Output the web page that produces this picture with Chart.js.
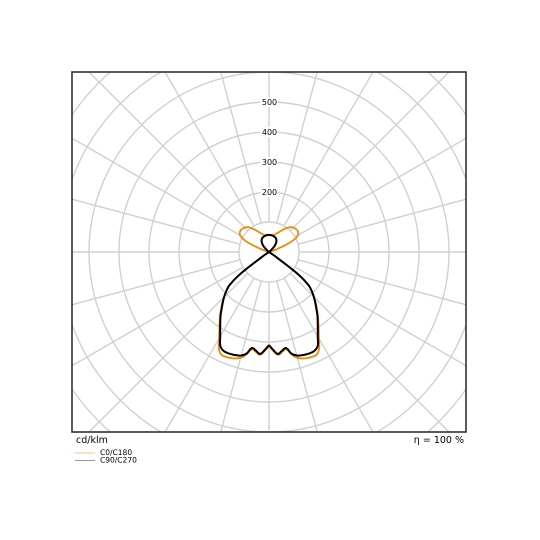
<!DOCTYPE html>
<html><head><meta charset="utf-8">
<script src="https://cdn.jsdelivr.net/npm/chart.js@4"></script>
<style>html,body{margin:0;padding:0;background:#fff}#wrap{width:540px;height:540px}</style>
</head><body><div id="wrap"><canvas id="c" width="540" height="540"></canvas></div>
<script>
// ---- data (cd/klm), gamma measured from nadir ----
const gammaDeg = [0,2.5,5,7.5,10,12.5,15,17.5,20,22.5,25,27.5,30,32.5,35,37.5,40,42.5,45,47.5,50,52.5,55,57.5,60,62.5,65,67.5,70,72.5,75,77.5,80,82.5,85,87.5,90,92.5,95,97.5,100,102.5,105,107.5,110,112.5,115,117.5,120,122.5,125,127.5,130,132.5,135,137.5,140,142.5,145,147.5,150,152.5,155,157.5,160,162.5,165,167.5,170,172.5,175,177.5,180];
const c0c180 = [313,330,344,336,329,350,365,372,376,378,377,362,333,308,287,268,249,231,213,194,172,125,30,2,0,0,0,0,0,0,0,0,0,0,0,0,0,0,0,0,0,0,0,10,28,55,83,101,111,116,118,119,118,117,115,112,108,102,95,88,82,76,71,67,63,61,59,58,57,56.5,56,56,56];
const c90c270 = [310,327,341,332,325,347,357,361,363,364,362,352,325,303,283,265,245,228,211,193,172,125,30,2,0,0,0,0,0,0,0,0,0,0,0,0,0,0,0,0,0,0,0,0,0,0,0,0,0,0,0,0,0,10,20,28,34,39,43,46,48.5,50.5,52,53,54,54.5,55,55.5,56,56.5,57,57,57];
const ringValues = [100,200,300,400,500,600,700,800,900];
const ringLabels = ['200','300','400','500'];
const spokeStepDeg = 15;
const seriesNames = ['C0/C180','C90/C270'];
const unitLabel = 'cd/klm';
const efficiencyLabel = 'η = 100 %';

const ORANGE = '#ee8a0a';
const BLACK = '#000000';

function toXY(values){
  const pts = [];
  for (let i=0;i<gammaDeg.length;i++){
    const g = gammaDeg[i]*Math.PI/180;
    pts.push({x: values[i]*Math.sin(g), y: -values[i]*Math.cos(g)});
  }
  for (let i=gammaDeg.length-2;i>=0;i--){
    const g = gammaDeg[i]*Math.PI/180;
    pts.push({x: -values[i]*Math.sin(g), y: -values[i]*Math.cos(g)});
  }
  return pts;
}

const FONT = '"DejaVu Sans", sans-serif';

const polarGrid = {
  id: 'polarGrid',
  beforeDatasetsDraw(chart){
    const {ctx, chartArea:a, scales:{x, y}} = chart;
    const cx = x.getPixelForValue(0), cy = y.getPixelForValue(0);
    const pr = v => x.getPixelForValue(v) - cx;
    ctx.save();
    ctx.beginPath(); ctx.rect(a.left, a.top, a.right-a.left, a.bottom-a.top); ctx.clip();
    ctx.strokeStyle = '#d0d0d0'; ctx.lineWidth = 1.4;
    ringValues.forEach(v => { ctx.beginPath(); ctx.arc(cx, cy, pr(v), 0, Math.PI*2); ctx.stroke(); });
    const r0 = pr(ringValues[0]), r1 = pr(2000);
    for (let d=0; d<360; d+=spokeStepDeg){
      const t = d*Math.PI/180;
      ctx.beginPath();
      ctx.moveTo(cx + r0*Math.sin(t), cy + r0*Math.cos(t));
      ctx.lineTo(cx + r1*Math.sin(t), cy + r1*Math.cos(t));
      ctx.stroke();
    }
    ctx.font = '8px ' + FONT; ctx.textAlign = 'center'; ctx.textBaseline = 'middle';
    ringLabels.forEach(s => {
      const py = y.getPixelForValue(+s);
      const w = ctx.measureText(s).width;
      ctx.fillStyle = '#fff'; ctx.fillRect(cx - w/2 - 1, py - 5, w + 2, 10);
      ctx.fillStyle = '#000'; ctx.fillText(s, cx + 0.5, py + 1);
    });
    ctx.restore();
  },
  afterDraw(chart){
    const {ctx, chartArea:a} = chart;
    ctx.save();
    ctx.strokeStyle = '#333'; ctx.lineWidth = 1.6;
    ctx.strokeRect(a.left, a.top, a.right-a.left, a.bottom-a.top);
    ctx.fillStyle = '#000'; ctx.font = '9.5px ' + FONT; ctx.textBaseline = 'alphabetic';
    ctx.textAlign = 'left'; ctx.fillText(unitLabel, a.left + 4, a.bottom + 11);
    ctx.textAlign = 'right'; ctx.fillText(efficiencyLabel, a.right - 2, a.bottom + 11);
    const cols = ['#f5c47c', '#9a9a9a'];
    ctx.font = '7.5px ' + FONT; ctx.textAlign = 'left'; ctx.textBaseline = 'middle';
    seriesNames.forEach((n, i) => {
      const yy = a.bottom + 21 + i*7.5;
      ctx.strokeStyle = cols[i]; ctx.lineWidth = 1;
      ctx.beginPath(); ctx.moveTo(a.left + 3, yy); ctx.lineTo(a.left + 23, yy); ctx.stroke();
      ctx.fillStyle = '#000'; ctx.fillText(n, a.left + 28, yy);
    });
    ctx.restore();
  }
};

new Chart(document.getElementById('c'), {
  type: 'scatter',
  data: {
    datasets: [
      {label: seriesNames[0], data: toXY(c0c180), showLine: true, borderColor: ORANGE, borderWidth: 1.8, pointRadius: 0, tension: 0.4, order: 1, fill: false},
      {label: seriesNames[1], data: toXY(c90c270), showLine: true, borderColor: BLACK, borderWidth: 2, pointRadius: 0, tension: 0.4, order: 0, fill: false}
    ]
  },
  options: {
    responsive: false, animation: false, devicePixelRatio: 2,
    layout: {padding: {left: 72, top: 72, right: 74, bottom: 108}},
    scales: {
      x: {type: 'linear', display: false, min: -197/0.3, max: 197/0.3},
      y: {type: 'linear', display: false, min: -600, max: 600}
    },
    plugins: {legend: {display: false}, tooltip: {enabled: false}}
  },
  plugins: [polarGrid]
});
</script>
</body></html>
